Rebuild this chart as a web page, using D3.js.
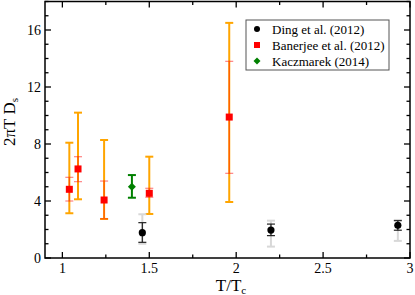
<!DOCTYPE html>
<html><head><meta charset="utf-8">
<script src="https://cdn.jsdelivr.net/npm/d3@7"></script>
<style>body{margin:0;background:#fff}svg{display:block}</style>
</head><body><div id="chart"></div>
<script>
// Ding et al. (2012)
const dingX = [1.46, 2.2, 2.93];
const dingY = [1.78, 1.96, 2.29];
const dingLo = [1.1, 1.57, 1.95];
const dingHi = [2.48, 2.38, 2.62];
const dingSysLo = [1.0, 0.8, 1.2];
const dingSysHi = [3.07, 2.62, 2.67];
// Banerjee et al. (2012)
const banX = [1.04, 1.09, 1.24, 1.5, 1.96];
const banY = [4.82, 6.25, 4.07, 4.54, 9.89];
const banStatLo = [4.0, 5.36, 2.75, 4.26, 5.94];
const banStatHi = [5.66, 7.11, 5.4, 4.89, 13.8];
const banSysLo = [3.14, 4.12, 2.74, 3.09, 3.93];
const banSysHi = [8.09, 10.2, 8.28, 7.11, 16.5];
// Kaczmarek (2014)
const kacX = [1.40];
const kacY = [5.0];
const kacLo = [4.23];
const kacHi = [5.82];

const xTicks = [1, 1.5, 2, 2.5, 3];
const xTickLabels = ["1", "1.5", "2", "2.5", "3"];
const yTicks = [0, 4, 8, 12, 16];
const legendLabels = ["Ding et al. (2012)", "Banerjee et al. (2012)", "Kaczmarek (2014)"];

const FONT = "'Liberation Serif', 'Times New Roman', Times, 'Nimbus Roman', 'Nimbus Roman No9 L', 'DejaVu Serif', 'Noto Serif', FreeSerif, Tinos, serif";
const W = 415, H = 295;
const L = 45, R = 410, T = 1.5, B = 258;
const svg = d3.select("#chart").append("svg").attr("width", W).attr("height", H)
  .style("font-family", FONT);
const x = d3.scaleLinear().domain([0.9, 3.0]).range([L, R]);
const y = d3.scaleLinear().domain([0, 18]).range([B, T]);

// ticks (inward, all four sides)
const g = svg.append("g").attr("stroke", "#000").attr("stroke-width", 1.3);
d3.range(0, 13).map(i => 1 + i * 0.25).filter(v => v <= 3.0001).forEach(v => {
  const major = Math.abs(v * 2 - Math.round(v * 2)) < 1e-6;
  const len = major ? 6 : 3.5;
  g.append("line").attr("x1", x(v)).attr("x2", x(v)).attr("y1", B).attr("y2", B - len);
  g.append("line").attr("x1", x(v)).attr("x2", x(v)).attr("y1", T).attr("y2", T + len);
});
d3.range(0, 19).forEach(v => {
  const major = v % 4 === 0;
  const len = major ? 6 : 3.5;
  g.append("line").attr("x1", L).attr("x2", L + len).attr("y1", y(v)).attr("y2", y(v));
  g.append("line").attr("x1", R).attr("x2", R - len).attr("y1", y(v)).attr("y2", y(v));
});
// frame
svg.append("rect").attr("x", L).attr("y", T).attr("width", R - L).attr("height", B - T)
  .attr("fill", "none").attr("stroke", "#000").attr("stroke-width", 1.5);

// tick labels
svg.selectAll(".xl").data(xTicks).enter().append("text")
  .style("font-family", FONT)
  .attr("x", d => x(d)).attr("y", 273).attr("text-anchor", "middle")
  .attr("font-size", 14).text((d, i) => xTickLabels[i]);
svg.selectAll(".yl").data(yTicks).enter().append("text")
  .style("font-family", FONT)
  .attr("x", L - 4).attr("y", d => y(d) + 5).attr("text-anchor", "end")
  .attr("font-size", 14).text(d => d);

// axis titles
const xt = svg.append("text").style("font-family", FONT).attr("x", 231).attr("y", 291).attr("text-anchor", "middle").attr("font-size", 17);
xt.append("tspan").text("T/T");
xt.append("tspan").attr("font-size", 11).attr("dy", 3).text("c");
const yt = svg.append("text").style("font-family", FONT).attr("transform", "translate(15,122) rotate(-90)").attr("text-anchor", "middle").attr("font-size", 17);
yt.append("tspan").text("2πT D");
yt.append("tspan").attr("font-size", 11).attr("dy", 3).text("s");

function errbar(px, lo, hi, color, cap, sw, opacity) {
  const e = svg.append("g").attr("stroke", color).attr("stroke-width", sw).attr("opacity", opacity == null ? 1 : opacity);
  e.append("line").attr("x1", x(px)).attr("x2", x(px)).attr("y1", y(lo)).attr("y2", y(hi));
  e.append("line").attr("x1", x(px) - cap).attr("x2", x(px) + cap).attr("y1", y(lo)).attr("y2", y(lo));
  e.append("line").attr("x1", x(px) - cap).attr("x2", x(px) + cap).attr("y1", y(hi)).attr("y2", y(hi));
}

// Banerjee
banX.forEach((v, i) => errbar(v, banSysLo[i], banSysHi[i], "#ffa500", 4, 2));
banX.forEach((v, i) => errbar(v, banStatLo[i], banStatHi[i], "#ff0000", 4, 1.3, 0.45));
svg.selectAll(".ban").data(banX).enter().append("rect")
  .attr("x", d => x(d) - 3.5).attr("y", (d, i) => y(banY[i]) - 3.5)
  .attr("width", 7).attr("height", 7).attr("fill", "#ff0000");

// Kaczmarek
kacX.forEach((v, i) => errbar(v, kacLo[i], kacHi[i], "#008000", 4, 2));
svg.selectAll(".kac").data(kacX).enter().append("path")
  .attr("d", (d, i) => `M${x(d)},${y(kacY[i]) - 4}l4,4l-4,4l-4,-4z`).attr("fill", "#008000");

// Ding
dingX.forEach((v, i) => errbar(v, dingSysLo[i], dingSysHi[i], "#d8d8d8", 4, 2));
dingX.forEach((v, i) => errbar(v, dingLo[i], dingHi[i], "#222", 4, 1.2));
svg.selectAll(".ding").data(dingX).enter().append("circle")
  .attr("cx", d => x(d)).attr("cy", (d, i) => y(dingY[i])).attr("r", 3.6).attr("fill", "#000");

// legend
svg.append("rect").attr("x", 246).attr("y", 20).attr("width", 143).attr("height", 50)
  .attr("fill", "#fff").attr("stroke", "#555").attr("stroke-width", 1);
const ly = [29, 45, 61];
svg.append("circle").attr("cx", 257).attr("cy", ly[0]).attr("r", 3).attr("fill", "#000");
svg.append("rect").attr("x", 254).attr("y", ly[1] - 3).attr("width", 6).attr("height", 6).attr("fill", "#ff0000");
svg.append("path").attr("d", `M257,${ly[2] - 3.5}l3.5,3.5l-3.5,3.5l-3.5,-3.5z`).attr("fill", "#008000");
legendLabels.forEach((t, i) => svg.append("text").style("font-family", FONT).attr("x", 272).attr("y", ly[i] + 4.5)
  .attr("font-size", 13).text(t));
</script></body></html>
